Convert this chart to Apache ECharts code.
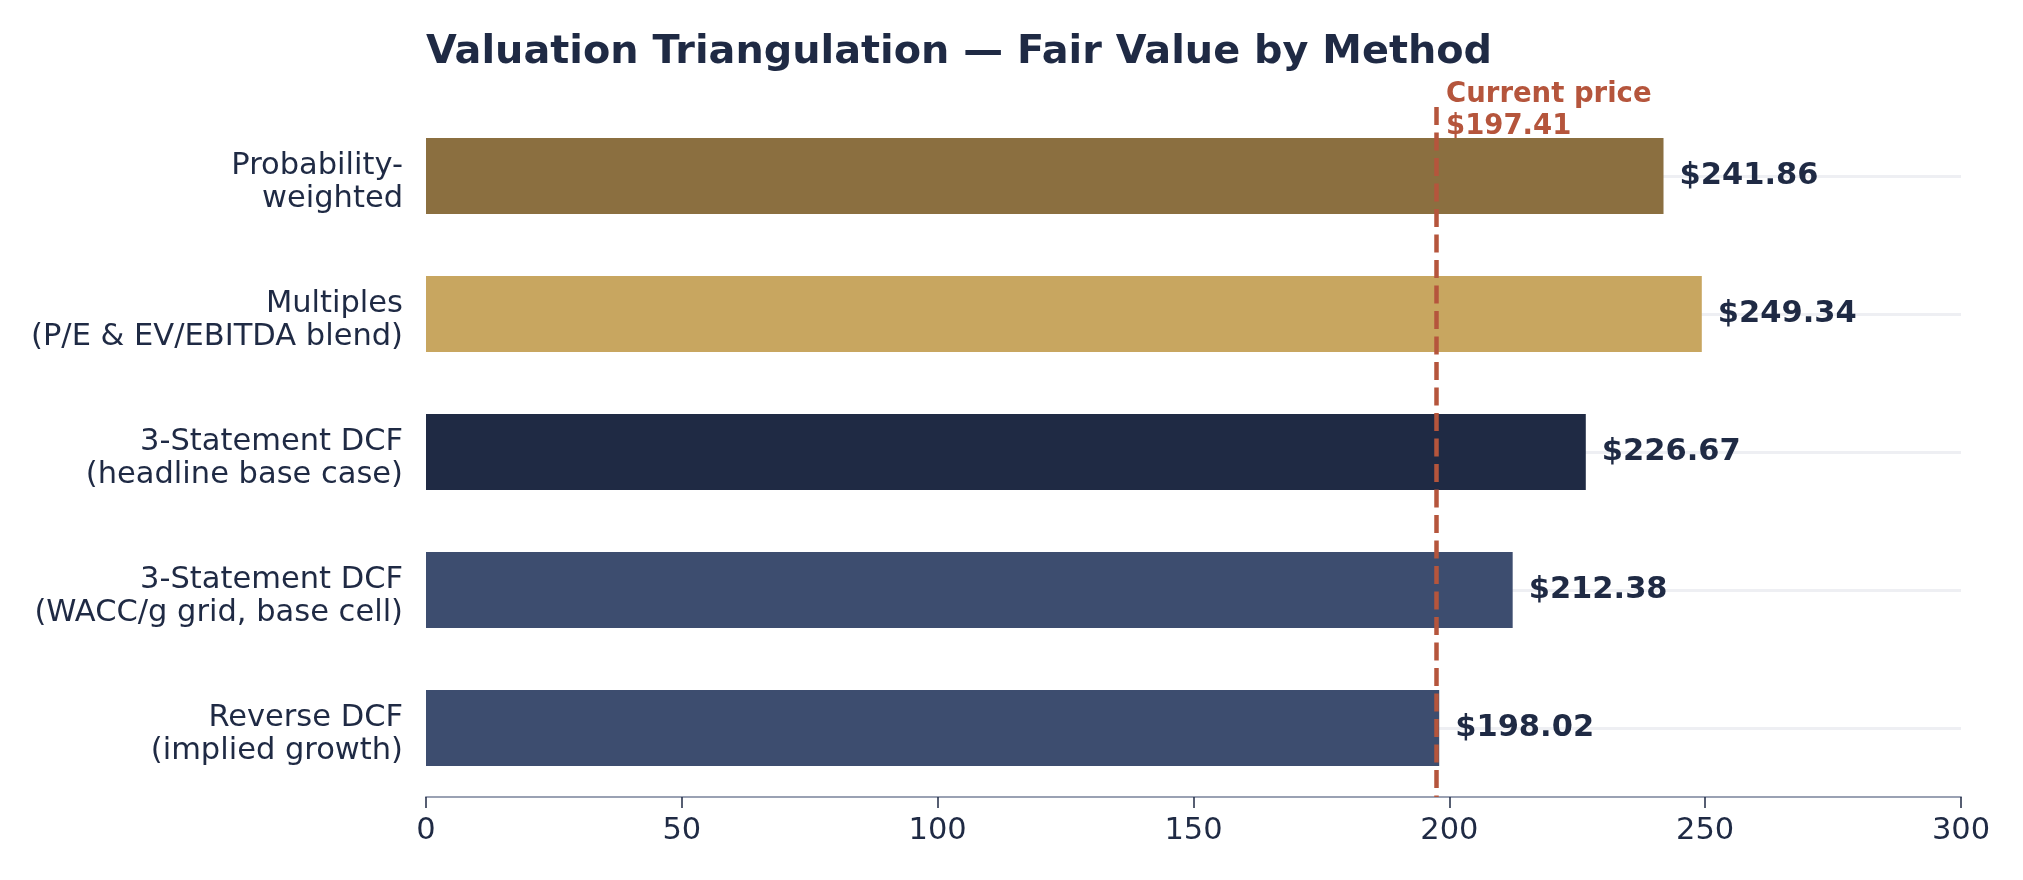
<!DOCTYPE html>
<html>
<head>
<meta charset="utf-8">
<script src="https://cdn.jsdelivr.net/npm/echarts@6/dist/echarts.min.js"></script>
<style>
  html, body { margin: 0; padding: 0; background: #ffffff; }
  #chart { width: 2023px; height: 880px; }
</style>
</head>
<body>
<div id="chart"></div>
<script>
// ---- data (top to bottom) ----
const categories = [
  'Probability-\nweighted',
  'Multiples\n(P/E & EV/EBITDA blend)',
  '3-Statement DCF\n(headline base case)',
  '3-Statement DCF\n(WACC/g grid, base cell)',
  'Reverse DCF\n(implied growth)'
];
const fairValues = [241.86, 249.34, 226.67, 212.38, 198.02];
const barColors = ['#8b6f40', '#c8a660', '#1f2a44', '#3d4d6f', '#3d4d6f'];
const currentPrice = 197.41;
const xTicks = [0, 50, 100, 150, 200, 250, 300];

const navy = '#1f2a44';
const rust = '#b5553c';
const font = 'DejaVu Sans';

const chart = echarts.init(document.getElementById('chart'), null, { renderer: 'canvas' });

const catStyle = { fontFamily: font, fontSize: 30.5, lineHeight: 33, color: navy, padding: [13, 0, 0, 0] };

chart.setOption({
  backgroundColor: '#ffffff',
  animation: false,
  title: {
    text: 'Valuation Triangulation \u2014 Fair Value by Method',
    left: 426,
    top: 33,
    padding: 0,
    textStyle: { fontFamily: font, fontSize: 39.8, fontWeight: 'bold', color: navy }
  },
  grid: { left: 426, right: 62, top: 107, bottom: 83, containLabel: false },
  xAxis: {
    type: 'value',
    min: xTicks[0],
    max: xTicks[xTicks.length - 1],
    interval: 50,
    axisLine: { show: true, lineStyle: { color: '#9aa1b3', width: 2 } },
    axisTick: { show: true, length: 11, lineStyle: { color: navy, width: 1.5 } },
    axisLabel: { margin: 19, fontFamily: font, fontSize: 30.5, color: navy },
    splitLine: { show: false }
  },
  yAxis: {
    type: 'category',
    data: categories,
    inverse: true,
    axisLine: { show: false },
    axisTick: { show: false },
    splitLine: { show: false },
    axisLabel: {
      margin: 23, fontFamily: font, fontSize: 30.5, lineHeight: 33,
      color: navy, align: 'right',
      formatter: v => v.split('\n').map(s => '{a|' + s + '}').join('\n'),
      rich: { a: catStyle }
    }
  },
  series: [
    {
      name: 'gridlines',
      type: 'line',
      data: [],
      silent: true,
      markLine: {
        silent: true,
        z: 1,
        symbol: ['none', 'none'],
        label: { show: false },
        lineStyle: { color: '#eeeff3', width: 3, type: 'solid' },
        data: categories.map((c, i) => ({ yAxis: i }))
      }
    },
    {
      name: 'Fair value',
      type: 'bar',
      z: 2,
      barWidth: '55%',
      data: fairValues.map((v, i) => ({ value: v, itemStyle: { color: barColors[i] } })),
      label: {
        show: true,
        position: 'right',
        distance: 16,
        fontFamily: font,
        fontSize: 30.5,
        fontWeight: 'bold',
        color: navy,
        formatter: p => '$' + p.value.toFixed(2)
      },
      markLine: {
        silent: true,
        z: 5,
        symbol: ['none', 'none'],
        lineStyle: { color: rust, width: 4.5, type: [18, 7.5] },
        label: {
          show: true,
          position: 'start',
          distance: 0,
          align: 'left',
          verticalAlign: 'middle',
          offset: [10, 4],
          fontFamily: font,
          fontSize: 27.5,
          fontWeight: 'bold',
          lineHeight: 32,
          color: rust,
          formatter: 'Current price\n$' + currentPrice.toFixed(2)
        },
        data: [{ xAxis: currentPrice }]
      }
    }
  ]
});
</script>
</body>
</html>
